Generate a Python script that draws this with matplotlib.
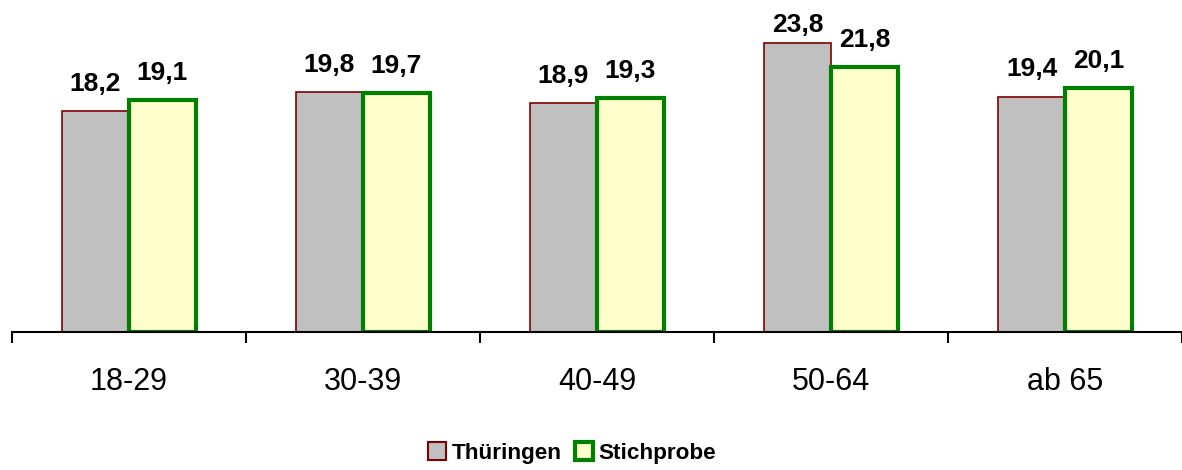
import numpy as np
import matplotlib
matplotlib.use("Agg")
import matplotlib.pyplot as plt
from matplotlib.patches import Patch

# === Data ===
categories = ["18-29", "30-39", "40-49", "50-64", "ab 65"]
thueringen = [18.2, 19.8, 18.9, 23.8, 19.4]
stichprobe = [19.1, 19.7, 19.3, 21.8, 20.1]
series_names = ["Thüringen", "Stichprobe"]

plt.rcParams["font.family"] = ["Liberation Sans", "DejaVu Sans"]

fig = plt.figure(figsize=(11.82, 4.70), dpi=100)
ax = fig.add_axes([12 / 1182, 1 - 332 / 470, 1 - 12 / 1182, 332 / 470])

x = np.arange(len(categories))
w = 0.286

ax.bar(x - w, thueringen, width=w, align="edge", color="#C0C0C0",
       edgecolor="#800000", linewidth=1.2, zorder=2)
ax.bar(x, stichprobe, width=w, align="edge", color="#FFFFCC",
       edgecolor="#008000", linewidth=3.0, zorder=2)

# === Value labels (clamped at top like Excel) ===
def label(xs, vals, off):
    for xi, v in zip(xs, vals):
        y = min(v + 1.65, 24.75)
        ax.text(xi + off, y, f"{v:.1f}".replace(".", ","), ha="center",
                va="baseline", fontsize=19, fontweight="bold")

label(x, thueringen, -w / 2)
label(x, stichprobe, w / 2)

ax.set_xlim(-0.5, len(categories) - 0.5)
ax.set_ylim(0, 27.35)

for s in ["top", "right", "left"]:
    ax.spines[s].set_visible(False)
ax.spines["bottom"].set_linewidth(1.5)
ax.set_yticks([])

ax.set_xticks(np.arange(len(categories) + 1) - 0.5)
ax.set_xticklabels([])
ax.tick_params(axis="x", which="major", direction="out", length=8, width=1.5)
ax.set_xticks(x, minor=True)
ax.set_xticklabels(categories, minor=True, fontsize=22)
ax.tick_params(axis="x", which="minor", length=0, pad=25)

handles = [Patch(facecolor="#C0C0C0", edgecolor="#800000", linewidth=1.5),
           Patch(facecolor="#FFFFCC", edgecolor="#008000", linewidth=3.0)]
fig.legend(handles, series_names, loc="center", bbox_to_anchor=(0.484, 0.036),
           ncol=2, frameon=False, handlelength=0.8, handleheight=0.8,
           handletextpad=0.25, columnspacing=0.6,
           prop={"weight": "bold", "size": 16.2})

fig.savefig("out.png", dpi=100)
